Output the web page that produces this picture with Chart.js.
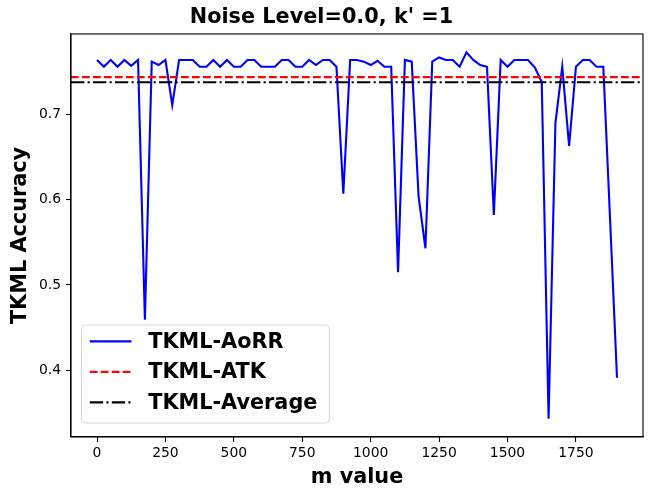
<!DOCTYPE html>
<html>
<head>
<meta charset="utf-8">
<script src="https://cdn.jsdelivr.net/npm/chart.js@4.4.0/dist/chart.umd.min.js"></script>
<style>
    html, body { margin: 0; padding: 0; background: #ffffff; }
    #accChart { display: block; }
</style>
</head>
<body>
<canvas id="accChart" width="651" height="491"></canvas>
<script>
const ctx = document.getElementById('accChart');

const mValues = [
    0, 25, 50, 75, 100, 125, 150, 175, 200, 225,
    250, 275, 300, 325, 350, 375, 400, 425, 450, 475,
    500, 525, 550, 575, 600, 625, 650, 675, 700, 725,
    750, 775, 800, 825, 850, 875, 900, 925, 950, 975,
    1000, 1025, 1050, 1075, 1100, 1125, 1150, 1175, 1200, 1225,
    1250, 1275, 1300, 1325, 1350, 1375, 1400, 1425, 1450, 1475,
    1500, 1525, 1550, 1575, 1600, 1625, 1650, 1675, 1700, 1725,
    1750, 1775, 1800, 1825, 1850, 1875, 1900
]
const aorrAcc = [
    0.764, 0.756, 0.764, 0.756, 0.764, 0.757, 0.764, 0.459, 0.762, 0.758,
    0.764, 0.711, 0.764, 0.764, 0.764, 0.756, 0.756, 0.764, 0.756, 0.764,
    0.756, 0.756, 0.764, 0.764, 0.756, 0.756, 0.756, 0.764, 0.764, 0.756,
    0.756, 0.764, 0.758, 0.764, 0.764, 0.756, 0.607, 0.764, 0.764, 0.762,
    0.758, 0.763, 0.756, 0.756, 0.515, 0.764, 0.762, 0.604, 0.543, 0.762,
    0.767, 0.764, 0.764, 0.756, 0.773, 0.764, 0.758, 0.756, 0.582, 0.764,
    0.756, 0.764, 0.764, 0.764, 0.755, 0.738, 0.343, 0.690, 0.756, 0.663,
    0.756, 0.764, 0.764, 0.756, 0.756, 0.575, 0.391
]
const atkAcc = 0.7438
const averageAcc = 0.7379
const xTickValues = [0, 250, 500, 750, 1000, 1250, 1500, 1750]
const yTickValues = [0.4, 0.5, 0.6, 0.7]
const seriesLabels = ['TKML-AoRR', 'TKML-ATK', 'TKML-Average']

const FONT = 'DejaVu Sans'

// matplotlib style autoscale: 5% margin each side
const xLo = Math.min(...mValues), xHi = Math.max(...mValues)
const yLo = Math.min(...aorrAcc), yHi = Math.max(...aorrAcc)
const xMin = xLo - 0.05 * (xHi - xLo)
const xMax = xHi + 0.05 * (xHi - xLo)
const yMin = yLo - 0.05 * (yHi - yLo)
const yMax = yHi + 0.05 * (yHi - yLo)

const aorrPoints = mValues.map((m, idx) => ({ x: m, y: aorrAcc[idx] }))

// legend drawn inside the axes, lower left, like matplotlib loc='lower left'
const boxLegend = {
    id: 'boxLegend',
    afterDraw(chart) {
        const c = chart.ctx
        const area = chart.chartArea
        c.save()
        // axes frame
        c.strokeStyle = '#000000'
        c.lineWidth = 1.1
        c.strokeRect(area.left, area.top, area.right - area.left, area.bottom - area.top)

        c.font = 'bold 20.8px "' + FONT + '"'
        const sets = chart.data.datasets
        const textW = Math.max(...sets.map(s => c.measureText(s.label).width))
        const rowH = 30.5
        const boxL = area.left + 10.5
        const boxW = 8.3 + 41.7 + 16.7 + textW + 12
        const boxH = 98
        const boxB = area.bottom - 14
        const boxT = boxB - boxH

        c.beginPath()
        c.roundRect(boxL, boxT, boxW, boxH, 4)
        c.fillStyle = 'rgba(255,255,255,0.8)'
        c.fill()
        c.strokeStyle = '#d6d6d6'
        c.lineWidth = 1
        c.stroke()

        sets.forEach((s, idx) => {
            const cy = boxT + 16.4 + rowH * idx
            c.beginPath()
            c.setLineDash(s.borderDash || [])
            c.strokeStyle = s.borderColor
            c.lineWidth = s.borderWidth
            c.moveTo(boxL + 8.3, cy)
            c.lineTo(boxL + 8.3 + 41.7, cy)
            c.stroke()
            c.setLineDash([])
            c.fillStyle = '#000000'
            c.textBaseline = 'middle'
            c.textAlign = 'left'
            c.fillText(s.label, boxL + 8.3 + 41.7 + 16.7, cy + 1)
        })
        c.restore()
    }
}

const accChart = new Chart(ctx, {
    type: 'line',
    data: {
        datasets: [
            {
                label: seriesLabels[0],
                data: aorrPoints,
                borderColor: '#0000ff',
                borderWidth: 2.1,
                pointRadius: 0,
                tension: 0,
                order: 3
            },
            {
                label: seriesLabels[1],
                data: [{ x: xMin, y: atkAcc }, { x: xMax, y: atkAcc }],
                borderColor: '#ff0000',
                borderWidth: 2.1,
                borderDash: [7.7, 3.3],
                pointRadius: 0,
                order: 2
            },
            {
                label: seriesLabels[2],
                data: [{ x: xMin, y: averageAcc }, { x: xMax, y: averageAcc }],
                borderColor: '#000000',
                borderWidth: 2.1,
                borderDash: [13.3, 3.3, 2.1, 3.3],
                pointRadius: 0,
                order: 1
            }
        ]
    },
    options: {
        responsive: false,
        animation: false,
        devicePixelRatio: 1,
        layout: { padding: { left: 0, right: 8, top: 0, bottom: 0 } },
        plugins: {
            legend: { display: false },
            tooltip: { enabled: false },
            title: {
                display: true,
                text: "Noise Level=0.0, k' =1",
                color: '#000000',
                font: { family: FONT, size: 20.8, weight: 'bold' },
                padding: { top: 5, bottom: 4 }
            }
        },
        scales: {
            x: {
                type: 'linear',
                min: xMin,
                max: xMax,
                afterBuildTicks: (scale) => { scale.ticks = xTickValues.map(v => ({ value: v })) },
                afterFit: (scale) => { scale.height = 54 },
                grid: { drawOnChartArea: false, drawTicks: true, tickLength: 5, tickColor: '#000000', tickWidth: 1.1 },
                border: { display: true, color: '#000000', width: 1.1 },
                ticks: {
                    color: '#000000',
                    font: { family: FONT, size: 13.9 },
                    padding: 3,
                    maxRotation: 0,
                    callback: (v) => String(v)
                },
                title: {
                    display: true,
                    text: 'm value',
                    color: '#000000',
                    font: { family: FONT, size: 20.8, weight: 'bold' },
                    padding: { top: 0, bottom: 1 }
                }
            },
            y: {
                type: 'linear',
                min: yMin,
                max: yMax,
                afterBuildTicks: (scale) => { scale.ticks = yTickValues.map(v => ({ value: v })) },
                afterFit: (scale) => { scale.width = 71 },
                grid: { drawOnChartArea: false, drawTicks: true, tickLength: 5, tickColor: '#000000', tickWidth: 1.1 },
                border: { display: true, color: '#000000', width: 1.1 },
                ticks: {
                    color: '#000000',
                    font: { family: FONT, size: 13.9 },
                    padding: 5,
                    callback: (v) => v.toFixed(1)
                },
                title: {
                    display: true,
                    text: 'TKML Accuracy',
                    color: '#000000',
                    font: { family: FONT, size: 20.8, weight: 'bold' },
                    padding: { top: 8, bottom: 0 }
                }
            }
        }
    },
    plugins: [boxLegend]
});
</script>
</body>
</html>
